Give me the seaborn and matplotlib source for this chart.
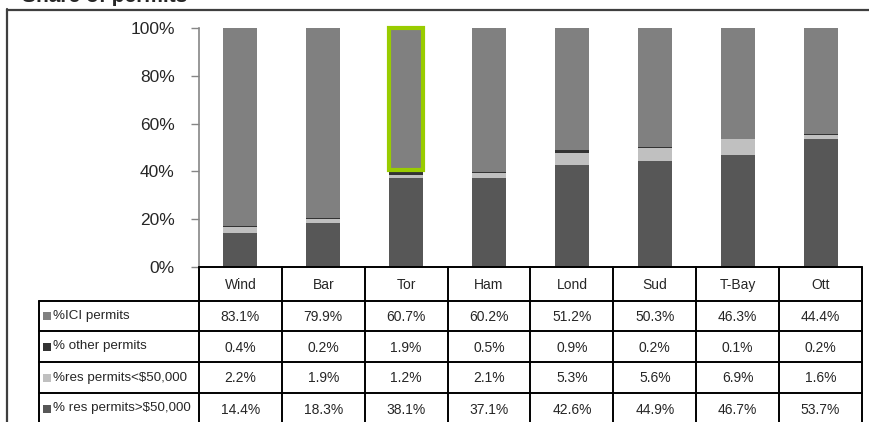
import matplotlib
matplotlib.use("Agg")
import matplotlib.pyplot as plt
from matplotlib.lines import Line2D
from matplotlib.patches import Rectangle
import numpy as np
import pandas as pd
import seaborn as sns

# ---- data -------------------------------------------------------------
cities = ["Wind", "Bar", "Tor", "Ham", "Lond", "Sud", "T-Bay", "Ott"]
ici_pct = [83.1, 79.9, 60.7, 60.2, 51.2, 50.3, 46.3, 44.4]
other_pct = [0.4, 0.2, 1.9, 0.5, 0.9, 0.2, 0.1, 0.2]
res_small_pct = [2.2, 1.9, 1.2, 2.1, 5.3, 5.6, 6.9, 1.6]
res_large_pct = [14.4, 18.3, 38.1, 37.1, 42.6, 44.9, 46.7, 53.7]

series_labels = ["%ICI permits", "% other permits",
                 "%res permits<\\$50,000", "% res permits>\\$50,000"]
series_colors = ["#808080", "#333333", "#c0c0c0", "#575757"]
y_ticks = [0, 0.2, 0.4, 0.6, 0.8, 1.0]
y_tick_labels = ["0%", "20%", "40%", "60%", "80%", "100%"]
highlight_city = "Tor"
title_text = "Share of permits"

# ---- styling ----------------------------------------------------------
sns.set_style("white")
plt.rcParams["font.family"] = ["Liberation Sans", "DejaVu Sans"]

W, H = 870, 422
fig = plt.figure(figsize=(W / 100, H / 100), dpi=100)

def fx(px):
    return px / W

def fy(py):
    return 1 - py / H

plot_left, plot_right = 199, 862
plot_top, plot_bottom = 28, 267

ax = fig.add_axes([fx(plot_left), fy(plot_bottom),
                   fx(plot_right) - fx(plot_left), fy(plot_top) - fy(plot_bottom)])

# series stacked bottom -> top, shares normalised to 100 %
stack_order = [res_large_pct, res_small_pct, other_pct, ici_pct]
stack_colors = [series_colors[3], series_colors[2], series_colors[1], series_colors[0]]
values = np.array(stack_order, dtype=float)
shares = values / values.sum(axis=0)
cum = np.cumsum(shares, axis=0)

bar_w = 0.41
# draw the cumulative totals from the tallest down so each layer shows its slice
for k in range(len(stack_order) - 1, -1, -1):
    df = pd.DataFrame({"city": cities, "top": cum[k]})
    sns.barplot(data=df, x="city", y="top", order=cities, color=stack_colors[k],
                saturation=1, width=bar_w, errorbar=None, linewidth=0, ax=ax)

# highlighted ICI segment outline
hi = cities.index(highlight_city)
ax.bar(hi, shares[3, hi], bottom=cum[2, hi], width=bar_w, fill=False,
       edgecolor="#99cc00", linewidth=3, clip_on=False, zorder=5)

ax.set_xlim(-0.5, len(cities) - 0.5)
ax.set_ylim(0, 1)
ax.set_xlabel("")
ax.set_ylabel("")
ax.set_xticks([])
ax.set_yticks(y_ticks)
ax.set_yticklabels(y_tick_labels, fontsize=12.5)
ax.tick_params(axis="y", length=6, width=1, color="#868686", pad=11.5,
               direction="out", left=True)
for side in ["top", "right", "bottom"]:
    ax.spines[side].set_visible(False)
ax.spines["left"].set_color("#868686")
ax.spines["left"].set_linewidth(1.2)

# ---- data table -------------------------------------------------------
tax = fig.add_axes([0, 0, 1, 1], zorder=3)
tax.set_xlim(0, W)
tax.set_ylim(H, 0)
tax.axis("off")
tax.patch.set_alpha(0)

col_w = (plot_right - plot_left) / len(cities)
col_edges = [plot_left + i * col_w for i in range(len(cities) + 1)]
row_edges = [267, 301, 331, 362, 393, 424]
label_left = 39
lc = "black"
lw = 1.4
fs = 10

# header row (category names)
tax.add_line(Line2D([plot_left, plot_right], [row_edges[0]] * 2, color=lc, lw=lw))
for x in col_edges:
    tax.add_line(Line2D([x, x], [row_edges[0], row_edges[-1]], color=lc, lw=lw))
for i, c in enumerate(cities):
    tax.text(col_edges[i] + col_w / 2, (row_edges[0] + row_edges[1]) / 2 + 1, c,
             ha="center", va="center", fontsize=fs)

# body rows
for y in row_edges[1:]:
    tax.add_line(Line2D([label_left, plot_right], [y, y], color=lc, lw=lw))
tax.add_line(Line2D([label_left, label_left], [row_edges[1], row_edges[-1]], color=lc, lw=lw))

table_rows = [ici_pct, other_pct, res_small_pct, res_large_pct]
for r, (lab, col, vals) in enumerate(zip(series_labels, series_colors, table_rows)):
    yc = (row_edges[r + 1] + row_edges[r + 2]) / 2
    tax.add_patch(Rectangle((43, yc - 4), 8, 8, facecolor=col, edgecolor="none"))
    tax.text(53, yc, lab, ha="left", va="center", fontsize=9.6)
    for i, v in enumerate(vals):
        tax.text(col_edges[i] + col_w / 2, yc + 1, f"{v:.1f}%",
                 ha="center", va="center", fontsize=fs)

# outer chart frame
tax.add_line(Line2D([7, W], [9.5, 9.5], color="#3f3f3f", lw=1.6))
tax.add_line(Line2D([7.5, 7.5], [9, H], color="#3f3f3f", lw=1.6))

# title (sits above the frame, mostly beyond the top edge)
tax.text(22, 2, title_text, ha="left", va="baseline", fontsize=15,
         fontweight="bold")

fig.savefig("out.png", dpi=100)
